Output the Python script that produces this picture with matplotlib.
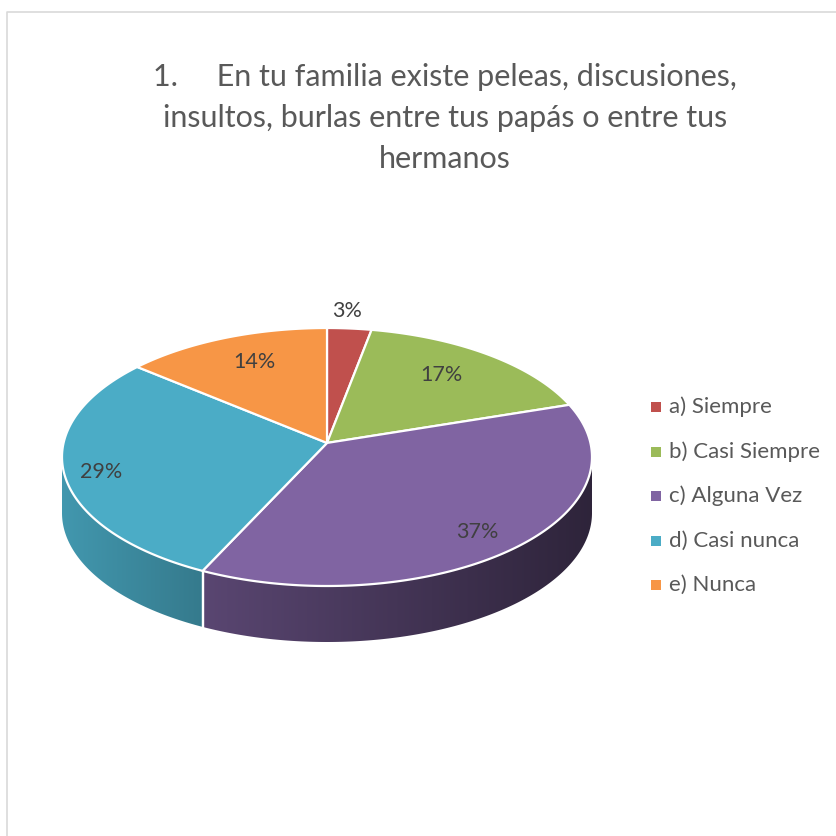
import numpy as np
import matplotlib
matplotlib.use('Agg')
import matplotlib.pyplot as plt
from matplotlib.patches import Polygon

plt.rcParams['font.family'] = ['Lato', 'DejaVu Sans']

###############################################################################
#### data
###############################################################################
labels = ['a) Siempre', 'b) Casi Siempre', 'c) Alguna Vez', 'd) Casi nunca', 'e) Nunca']
values = [3, 17, 37, 29, 14]
colors = ['#C0504D', '#9BBB59', '#8064A2', '#4BACC6', '#F79646']
title = ('1.     En tu familia existe peleas, discusiones,\n'
         'insultos, burlas entre tus papás o entre tus\n'
         'hermanos')

###############################################################################
#### layout (pixels)
###############################################################################
W = 836
cx, cy = 327, 457          # rim ellipse centre
a, b = 265, 129            # rim semi axes
depth = 56
persp = 0.109              # how far the pie centre sits behind the ellipse centre
# side shading (left factor, right factor) per slice
side_shade = {2: (0.70, 0.36), 3: (0.88, 0.71)}
# label anchors
label_pos = [(347, 311), (441, 375), (477, 532), (101, 472), (254, 362)]

rr = np.arctanh(persp)
ch, sh = np.cosh(rr), np.sinh(rr)


def rim(t):
    # circle angle -> point on the projected rim (simple perspective)
    t = np.radians(t)
    w = np.sin(t) * sh + ch
    X = np.cos(t) / w
    Y = (np.sin(t) * ch + sh) / w
    return cx + a * X, cy - b * Y


def shade(col, f):
    rgb = np.array(matplotlib.colors.to_rgb(col))
    return np.clip(rgb * f, 0, 1)


fig = plt.figure(figsize=(8.36, 8.36), dpi=100)
ax = fig.add_axes([0, 0, 1, 1])
ax.axis('off')

# frame (only left/top visible in the crop)
ax.plot([6.5, 6.5, W], [W, 11.5, 11.5], color='#D9D9D9', lw=1.2, zorder=1)

total = float(sum(values))
cum = np.concatenate([[0], np.cumsum(values)]) / total
starts = 90 - 360 * cum[:-1]   # clockwise from 12 o'clock
ends = 90 - 360 * cum[1:]
apex = (cx, cy - b * persp)

# visible front range of the side wall
edge = np.degrees(np.arcsin(persp))
f_lo, f_hi = -180 + edge, -edge

# ---- sides (front only), gradient clipped to the side shape
for i in range(len(values)):
    t0, t1 = ends[i], starts[i]          # t0 < t1
    lo, hi = max(t0, f_lo), min(t1, f_hi)
    if hi <= lo:
        lo, hi = max(t0 + 360, f_lo), min(t1 + 360, f_hi)
    if hi <= lo:
        continue
    f0, f1 = side_shade.get(i, (0.7, 0.5))
    ts = np.linspace(lo, hi, 200)
    xs, ys = rim(ts)
    pts = list(zip(xs, ys)) + list(zip(xs[::-1], ys[::-1] + depth))
    side = Polygon(pts, closed=True, fc='none', ec='none', zorder=2)
    ax.add_patch(side)
    xmin, xmax = xs.min(), xs.max()
    ymin, ymax = ys.min(), ys.max() + depth
    fr = np.linspace(f0, f1, 256)
    grad = np.array([shade(colors[i], f) for f in fr])[None, :, :]
    im = ax.imshow(grad, extent=(xmin, xmax, ymax, ymin), aspect='auto',
                   interpolation='bilinear', zorder=2)
    im.set_clip_path(side)
    # white seams
    for t in (lo, hi):
        if f_lo < t < f_hi:
            x, y = rim(t)
            ax.plot([x, x], [y, y + depth], color='white', lw=1.6, zorder=3)

# ---- top faces
for i in range(len(values)):
    ts = np.linspace(starts[i], ends[i], 200)
    xs, ys = rim(ts)
    pts = [apex] + list(zip(xs, ys))
    ax.add_patch(Polygon(pts, closed=True, fc=colors[i], ec='white',
                         lw=1.6, joinstyle='round', zorder=4))

# ---- data labels
for i, v in enumerate(values):
    x, y = label_pos[i]
    ax.text(x, y, '{:.0f}%'.format(100 * v / total), ha='center', va='center',
            fontsize=15.5, color='#404040', zorder=6)

# ---- legend
ly0, ldy = 407, 44.5
for i, lab in enumerate(labels):
    y = ly0 + i * ldy
    ax.scatter([656], [y], marker='s', s=45, color=colors[i], lw=0, zorder=6)
    ax.text(669, y, lab, ha='left', va='center', fontsize=16,
            color='#595959', zorder=6)

# ---- title
ax.text(445, 118, title, ha='center', va='center', fontsize=22,
        color='#595959', linespacing=1.55, zorder=6)

ax.set_xlim(0, W)
ax.set_ylim(W, 0)

fig.savefig('out.png', dpi=100, facecolor='white')
